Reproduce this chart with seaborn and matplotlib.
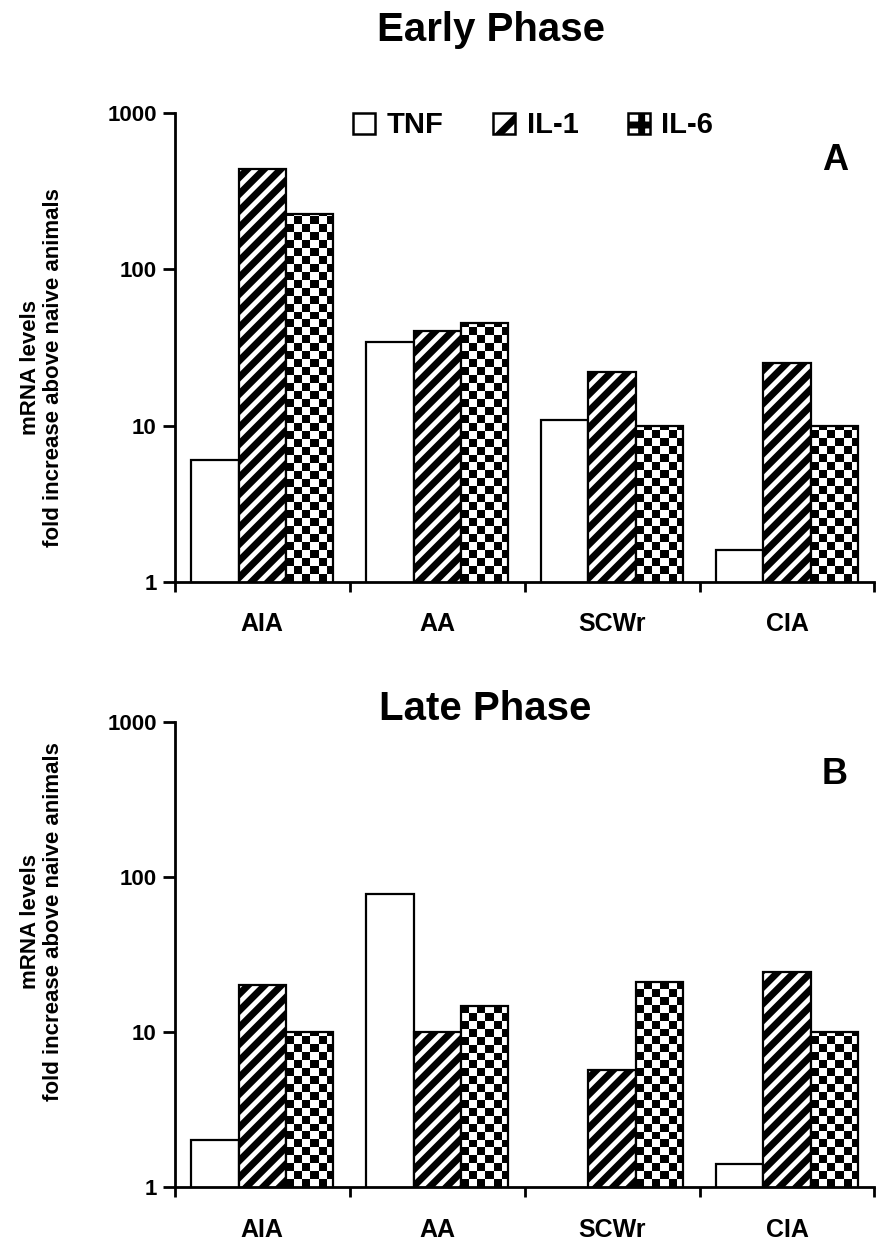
import numpy as np
import pandas as pd
import matplotlib
matplotlib.use('Agg')
import matplotlib.pyplot as plt
import matplotlib.patches as mpatches
from matplotlib.ticker import FixedLocator, FixedFormatter, NullLocator
import seaborn as sns

# data (fold increase in mRNA above naive animals)
models = ['AIA', 'AA', 'SCWr', 'CIA']
cytokines = ['TNF', 'IL-1', 'IL-6']
early_tnf = [6, 34, 10.8, 1.6]
early_il1 = [440, 40, 22, 25]
early_il6 = [225, 45, 10, 10]
late_tnf = [2, 77, np.nan, 1.4]
late_il1 = [20, 10, 5.7, 24.5]
late_il6 = [10, 14.8, 21, 10]
yticks = [1, 10, 100, 1000]
ytick_labels = ['1', '10', '100', '1000']

sns.set_style('white')
plt.rcParams['font.family'] = ['Liberation Sans', 'DejaVu Sans']
plt.rcParams['font.weight'] = 'bold'
plt.rcParams['hatch.linewidth'] = 5.0
for key in ['text.color', 'axes.labelcolor', 'xtick.color', 'ytick.color']:
    plt.rcParams[key] = 'black'


def make_df(tnf, il1, il6):
    rows = []
    for vals, name in zip([tnf, il1, il6], cytokines):
        for m, v in zip(models, vals):
            rows.append({'model': m, 'cytokine': name, 'value': v})
    return pd.DataFrame(rows)


def draw_panel(ax, df):
    sns.barplot(data=df, x='model', y='value', hue='cytokine', order=models,
                hue_order=cytokines, palette=['white'] * 3, edgecolor='black',
                linewidth=1.6, width=0.81, log_scale=True, legend=False, ax=ax)
    tnf_bars, il1_bars, il6_bars = ax.containers[:3]
    for bar in il1_bars:
        bar.set_hatch('//')
    # checkerboard fill for IL-6 bars, clipped to each bar
    checker = np.indices((59, 88)).sum(axis=0) % 2
    for bar in il6_bars:
        bar.set_facecolor('none')
        bar.set_zorder(2)
        im = ax.imshow(checker, cmap='gray', extent=(0, 1, 0, 1),
                       transform=ax.transAxes, interpolation='nearest',
                       aspect='auto', zorder=1.5)
        im.set_clip_path(bar)

    ax.set_yscale('log')
    ax.set_ylim(1, 1000)
    ax.set_xlim(-0.5, 3.5)
    ax.yaxis.set_major_locator(FixedLocator(yticks))
    ax.yaxis.set_major_formatter(FixedFormatter(ytick_labels))
    ax.yaxis.set_minor_locator(NullLocator())
    ax.xaxis.set_major_locator(FixedLocator([-0.5, 0.5, 1.5, 2.5, 3.5]))
    ax.xaxis.set_major_formatter(FixedFormatter([''] * 5))
    ax.xaxis.set_minor_locator(FixedLocator([0, 1, 2, 3]))
    ax.xaxis.set_minor_formatter(FixedFormatter(models))
    ax.tick_params(axis='x', which='major', direction='out', length=7, width=2, bottom=True)
    ax.tick_params(axis='x', which='minor', length=0, pad=22, labelsize=18)
    ax.tick_params(axis='y', which='major', direction='out', length=9, width=2,
                   left=True, labelsize=16, pad=4)
    ax.set_xlabel('')
    ax.set_ylabel('')
    sns.despine(ax=ax)
    for s in ['left', 'bottom']:
        ax.spines[s].set_linewidth(2)
        ax.spines[s].set_color('black')
    return tnf_bars, il1_bars, il6_bars


fig = plt.figure(figsize=(8.96, 12.54), dpi=100)
ax_top = fig.add_axes([0.195, 0.536, 0.781, 0.374])
ax_bot = fig.add_axes([0.195, 0.0534, 0.781, 0.371])

draw_panel(ax_top, make_df(early_tnf, early_il1, early_il6))
draw_panel(ax_bot, make_df(late_tnf, late_il1, late_il6))

fig.text(0.548, 0.976, 'Early Phase', ha='center', va='center', fontsize=29, fontweight='bold')
fig.text(0.541, 0.435, 'Late Phase', ha='center', va='center', fontsize=29, fontweight='bold')
fig.text(0.932, 0.872, 'A', ha='center', va='center', fontsize=26, fontweight='bold')
fig.text(0.932, 0.382, 'B', ha='center', va='center', fontsize=26, fontweight='bold')

ylab = 'mRNA levels\nfold increase above naive animals'
fig.text(0.047, 0.707, ylab, rotation=90, ha='center', va='center',
         multialignment='center', fontsize=16, fontweight='bold', linespacing=1.1)
fig.text(0.047, 0.265, ylab, rotation=90, ha='center', va='center',
         multialignment='center', fontsize=16, fontweight='bold', linespacing=1.1)

handles = [
    mpatches.Patch(facecolor='white', edgecolor='black', linewidth=1.8, label='TNF'),
    mpatches.Patch(facecolor='white', edgecolor='black', linewidth=1.8, hatch='/', label='IL-1'),
    mpatches.Patch(facecolor='white', edgecolor='black', linewidth=1.8, hatch='+', label='IL-6'),
]
fig.legend(handles=handles, loc='center', bbox_to_anchor=(0.595, 0.9), ncol=3,
           frameon=False, handlelength=0.75, handleheight=0.75,
           handletextpad=0.4, columnspacing=1.7, prop={'weight': 'bold', 'size': 21})

fig.savefig('out.png', dpi=100)
